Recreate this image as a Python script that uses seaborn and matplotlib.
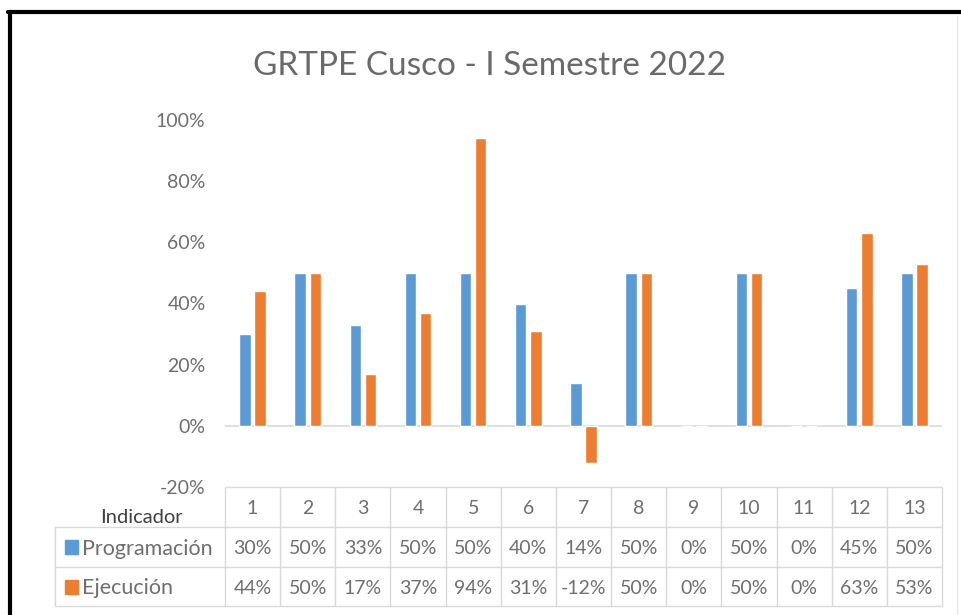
import numpy as np
import pandas as pd
import matplotlib
matplotlib.use("Agg")
import matplotlib.pyplot as plt
import seaborn as sns
from matplotlib.lines import Line2D
from matplotlib.patches import Rectangle

# ---- data ----
indicadores = ["1", "2", "3", "4", "5", "6", "7", "8", "9", "10", "11", "12", "13"]
programacion = [30, 50, 33, 50, 50, 40, 14, 50, 0, 50, 0, 45, 50]
ejecucion = [44, 50, 17, 37, 94, 31, -12, 50, 0, 50, 0, 63, 53]
series = ["Programación", "Ejecución"]
colors = ["#5B9BD5", "#ED7D31"]
yticks = [-20, 0, 20, 40, 60, 80, 100]
title = "GRTPE Cusco - I Semestre 2022"
row_header = "Indicador"

df = pd.DataFrame({
    "Indicador": indicadores * 2,
    "Valor": programacion + ejecucion,
    "Serie": [series[0]] * len(indicadores) + [series[1]] * len(indicadores),
})

sns.set_theme(style="white")
plt.rcParams['font.family'] = ['Lato', 'DejaVu Sans']

W, H = 961, 615
fig = plt.figure(figsize=(W / 100, H / 100), dpi=100)
fig.patch.set_facecolor("white")

ax = fig.add_axes([225 / W, 1 - 487 / H, 717 / W, 367 / H])
sns.barplot(data=df, x="Indicador", y="Valor", hue="Serie", palette=colors,
            width=0.55, gap=0.25, saturation=1, legend=False, ax=ax)
ax.set_xlim(-0.5, len(indicadores) - 0.5)
ax.set_ylim(yticks[0], yticks[-1])
ax.set_yticks(yticks)
ax.set_yticklabels([f"{v}%" for v in yticks])
ax.set_xticks([])
ax.set_xlabel("")
ax.set_ylabel("")
for s in ax.spines.values():
    s.set_visible(False)
ax.tick_params(axis="y", length=0, pad=14, labelsize=14, labelcolor="#6E6E6E")
ax.axhline(0, color="#D9D9D9", lw=1.2, zorder=0)

# ---- title ----
fig.text(490 / W, 1 - 75 / H, title, ha="center", va="baseline",
         fontsize=24, color="#6A6A6A")

# ---- data table ----
grid_c = "#D9D9D9"
txt_c = "#6E6E6E"
xt = ax.get_xaxis_transform()
ya = [0.0, -40 / 367, -80 / 367, -119 / 367]   # row boundaries (axes fraction)
left_lab = (55 - 225) / 717
n = len(indicadores)

ax.plot([-0.5, n - 0.5], [ya[0], ya[0]], transform=xt, color=grid_c, lw=1, clip_on=False)
for y in ya[1:]:
    ax.plot([left_lab, 1.0], [y, y], transform=ax.transAxes, color=grid_c, lw=1, clip_on=False)
for i in range(n + 1):
    ax.plot([i - 0.5, i - 0.5], [ya[0], ya[3]], transform=xt, color=grid_c, lw=1, clip_on=False)
ax.plot([left_lab, left_lab], [ya[1], ya[3]], transform=ax.transAxes, color=grid_c, lw=1, clip_on=False)

ymid = [(ya[k] + ya[k + 1]) / 2 for k in range(3)]
fs = 14
for i, lab in enumerate(indicadores):
    ax.text(i, ymid[0], lab, transform=xt, ha="center", va="center_baseline", fontsize=fs, color=txt_c)
    ax.text(i, ymid[1], f"{programacion[i]}%", transform=xt, ha="center", va="center_baseline", fontsize=fs, color=txt_c)
    ax.text(i, ymid[2], f"{ejecucion[i]}%", transform=xt, ha="center", va="center_baseline", fontsize=fs, color=txt_c)

for k, (name, col) in enumerate(zip(series, colors)):
    ax.add_patch(Rectangle(((65 - 225) / 717, ymid[k + 1] - 7 / 367), 13 / 717, 14 / 367,
                           transform=ax.transAxes, color=col, clip_on=False))
    ax.text((82 - 225) / 717, ymid[k + 1], name, transform=ax.transAxes, ha="left",
            va="center_baseline", fontsize=15.5, color=txt_c)

ax.text((100 - 225) / 717, (487 - 516) / 367, row_header, transform=ax.transAxes,
        ha="left", va="center_baseline", fontsize=14.5, color="#404040")

# ---- outer frame ----
fig.add_artist(Line2D([8 / W, 1], [1 - 12 / H, 1 - 12 / H], transform=fig.transFigure, color="black", lw=3))
fig.add_artist(Line2D([10 / W, 10 / W], [1 - 12 / H, 0], transform=fig.transFigure, color="black", lw=3))
fig.add_artist(Line2D([957 / W, 957 / W], [1 - 16 / H, 0], transform=fig.transFigure, color="#E6E6E6", lw=1))

fig.savefig("out.png", dpi=100, facecolor="white")
